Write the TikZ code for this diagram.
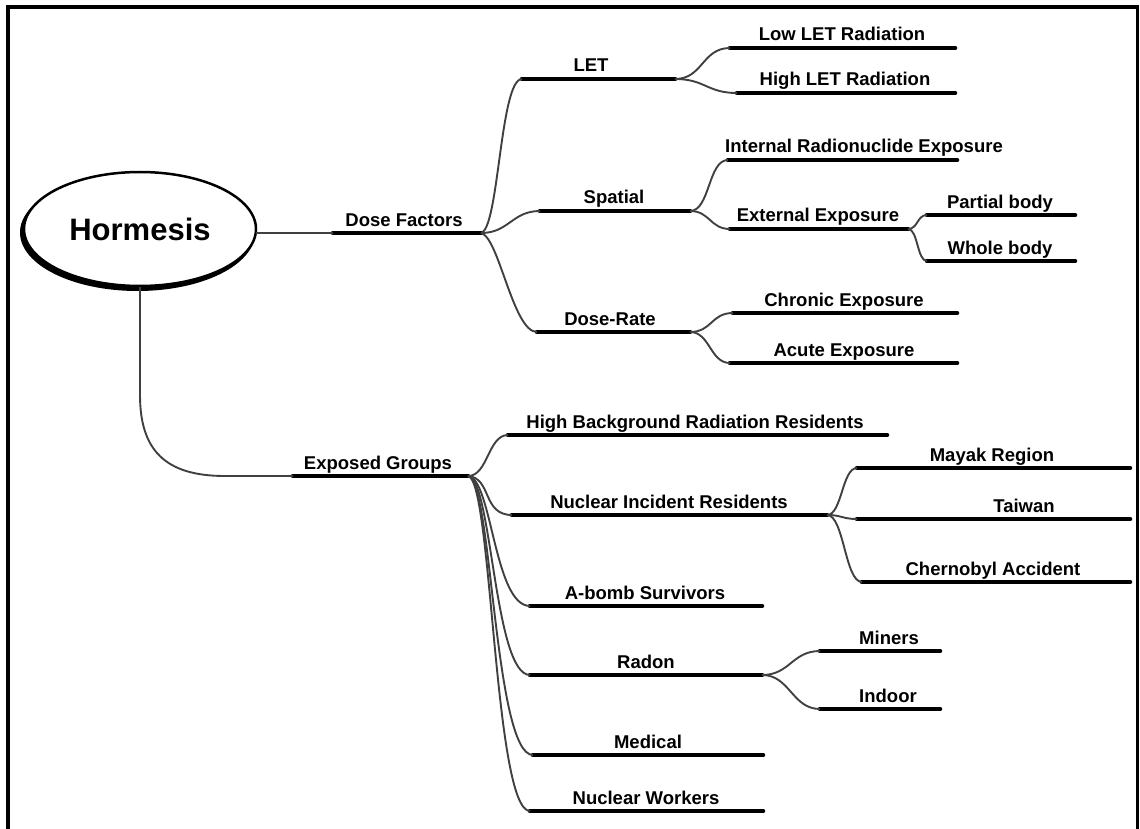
\documentclass[tikz,border=0pt]{standalone}
\usepackage{fontspec}
\setmainfont{Liberation Sans}
\usetikzlibrary{shapes.geometric}
\newcommand{\topicline}[6]{%
  \coordinate (#1s) at (#2,#4);
  \coordinate (#1e) at (#3,#4);
  \draw[under] (#1s) -- (#1e);
  \node[lbl] (#1) at (#5,#4-7) {#6};}
\newcommand{\branchto}[3]{%
  \draw[conn] (#1e) .. controls +(#3,0) and +(-#3,0) .. (#2s);}
\newcommand{\dropto}[2]{%
  \draw[conn] (#1e) .. controls +(24,2) and +(-#2,0) .. (#1s -| #2s) ;}
\begin{document}
\begin{tikzpicture}[x=1pt,y=-1pt,
  conn/.style={draw=black!75,line width=1.9pt},
  under/.style={draw=black,line width=4.6pt,line cap=round},
  lbl/.style={anchor=base,inner sep=0pt,font=\bfseries\fontsize{18.5}{20}\selectfont},
  frame/.style={draw=black,line width=3.5pt},
  rootnode/.style={ellipse,draw=black,line width=2.5pt,fill=white,
    minimum width=232pt,minimum height=114pt,inner sep=0pt,
    font=\bfseries\fontsize{31}{33}\selectfont}]
\useasboundingbox (0,0) rectangle (1140,829);
\draw[frame] (8,840) -- (8,7) -- (1137.5,7) -- (1137.5,840);

% root
\fill[black] (137.5,232.5) ellipse [x radius=117.5pt, y radius=58.5pt];
\node[rootnode] (H) at (140,229) {Hormesis};

% main topics
\topicline{DF}{333}{481}{233}{404}{Dose Factors}
\topicline{EG}{293}{468}{476}{378}{Exposed Groups}
\draw[conn] (256,233) -- (DFs);
\draw[conn] (140,287) -- (140,395) .. controls (140,450) and (165,476) .. (225,476) -- (EGs);

% Dose factors
\topicline{LET}{522}{675}{79}{591}{LET}
\topicline{SP}{540}{690}{211}{614}{Spatial}
\topicline{DR}{537}{690}{332}{610}{Dose-Rate}
\draw[conn] (DFe) .. controls +(18,-4) and +(-22,0) .. (LETs);
\branchto{DF}{SP}{28}
\draw[conn] (DFe) .. controls +(18,4) and +(-24,0) .. (DRs);

\topicline{LLR}{730}{955}{48}{842}{Low LET Radiation}
\topicline{HLR}{737}{955}{93}{845}{High LET Radiation}
\branchto{LET}{LLR}{28}
\branchto{LET}{HLR}{30}

\topicline{IRE}{728}{957}{160}{864}{Internal Radionuclide Exposure}
\topicline{EE}{730}{908}{229}{818}{External Exposure}
\branchto{SP}{IRE}{20}
\branchto{SP}{EE}{20}

\topicline{PB}{927}{1075}{215}{1000}{Partial body}
\topicline{WB}{927}{1075}{261}{1000}{Whole body}
\branchto{EE}{PB}{10}
\branchto{EE}{WB}{10}

\topicline{CE}{733}{957}{313}{844}{Chronic Exposure}
\topicline{AE}{730}{957}{363}{844}{Acute Exposure}
\branchto{DR}{CE}{22}
\branchto{DR}{AE}{20}

% Exposed groups
\topicline{HBR}{508}{887}{435}{695}{High Background Radiation Residents}
\topicline{NIR}{512}{827}{515}{669}{Nuclear Incident Residents}
\topicline{AB}{530}{762}{606}{645}{A-bomb Survivors}
\topicline{RA}{530}{762}{675}{646}{Radon}
\topicline{ME}{533}{763}{755}{648}{Medical}
\topicline{NW}{530}{763}{811}{646}{Nuclear Workers}
\branchto{EG}{HBR}{20}
\draw[conn] (EGe) .. controls +(24,2) and +(-30,0) .. (NIRs);
\draw[conn] (EGe) .. controls +(24,2) and +(-36,0) .. (ABs);
\draw[conn] (EGe) .. controls +(24,2) and +(-36,0) .. (RAs);
\draw[conn] (EGe) .. controls +(24,2) and +(-39,0) .. (MEs);
\draw[conn] (EGe) .. controls +(24,2) and +(-36,0) .. (NWs);

\topicline{MR}{857}{1130}{468}{992}{Mayak Region}
\topicline{TW}{857}{1130}{519}{1024}{Taiwan}
\topicline{CA}{862}{1130}{582}{993}{Chernobyl Accident}
\branchto{NIR}{MR}{15}
\branchto{NIR}{TW}{15}
\branchto{NIR}{CA}{17}

\topicline{MI}{820}{940}{651}{889}{Miners}
\topicline{IN}{820}{940}{709}{888}{Indoor}
\branchto{RA}{MI}{28}
\branchto{RA}{IN}{28}
\end{tikzpicture}
\end{document}
